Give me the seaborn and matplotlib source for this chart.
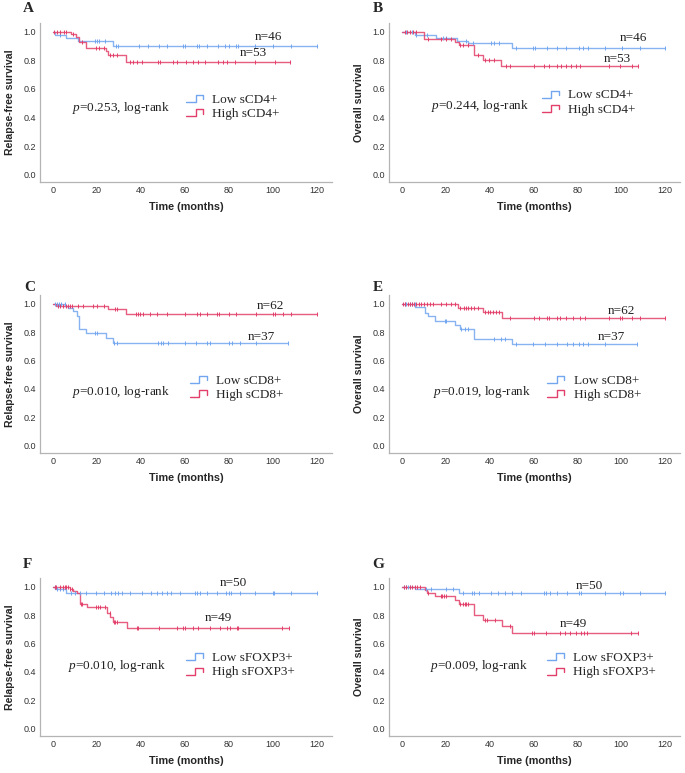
import numpy as np
import pandas as pd
import matplotlib
matplotlib.use("Agg")
import matplotlib.pyplot as plt
import seaborn as sns
from matplotlib.lines import Line2D
from matplotlib.legend_handler import HandlerBase

# ---------------- data ----------------
# step curves: event times (months) and survival after each step
A_low_t = [0, 1, 6, 11.5, 27.4]
A_low_s = [1.0, 0.978, 0.956, 0.935, 0.900]
A_low_c = [3, 19, 20, 21, 23.5, 28.5, 29.5, 39, 43, 48, 52, 59, 60, 65.5, 66.5, 70, 75, 78, 80, 83, 84, 92, 100, 108, 120]
A_high_t = [0, 8, 10.5, 12, 15, 24, 25, 33]
A_high_s = [1.0, 0.981, 0.962, 0.924, 0.886, 0.862, 0.834, 0.790]
A_high_c = [0.5, 2, 3, 5, 6, 9, 13, 19.5, 21, 23, 26, 27.5, 29, 35, 36.5, 38, 40.3, 47.9, 48.6, 54.7, 56.2, 60.6, 63.8, 66, 69, 75, 77.4, 79, 82.7, 91.8, 100.9, 107.5]

B_low_t = [0, 6, 15.7, 25, 30, 50.4]
B_low_s = [1.0, 0.976, 0.954, 0.935, 0.923, 0.884]
B_low_c = [2, 4.6, 6.5, 11.4, 18.7, 20.3, 29, 32.4, 40.4, 41.9, 44.3, 52.2, 59.8, 60.6, 66.2, 70.8, 74.8, 80.9, 82.4, 84.7, 92.6, 100.5, 108.6, 120]
B_high_t = [0, 10, 24, 26, 33, 37, 45]
B_high_s = [1.0, 0.951, 0.926, 0.904, 0.836, 0.802, 0.758]
B_high_c = [1.2, 2.4, 3.8, 5, 6.2, 11.9, 18, 20, 22.5, 26.5, 28, 30, 34.7, 38, 39.6, 41.9, 47.4, 49.5, 60.3, 64.7, 67.1, 70.5, 72.7, 75, 77.3, 79.6, 81.1, 94.6, 99.4, 104.7, 107.5]

C_low_t = [0, 5.5, 7, 9, 11, 12, 15.2, 24, 27.2]
C_low_s = [1.0, 0.985, 0.970, 0.947, 0.912, 0.820, 0.790, 0.757, 0.725]
C_low_c = [0.8, 1.8, 2.7, 3.8, 5.3, 19.3, 20, 27.8, 29.2, 47.9, 49, 50.2, 52.1, 60, 65, 70.2, 71.4, 80.2, 81.3, 85, 92.3, 107]
C_high_t = [0, 1.5, 25, 33]
C_high_s = [1.0, 0.983, 0.962, 0.927]
C_high_c = [2.3, 3, 4.6, 6, 6.8, 7.6, 8.8, 11.4, 13.7, 18.2, 19.8, 23.1, 28.1, 29.2, 37.9, 38.7, 39.5, 40.7, 44, 47.1, 51.6, 60, 65.3, 66.8, 70.2, 74.7, 75.5, 80.2, 83.2, 92.3, 100.2, 101, 104.4, 108.2, 120]

E_low_t = [0, 6, 10.5, 12, 15, 24, 26.5, 33, 50]
E_low_s = [1.0, 0.974, 0.937, 0.912, 0.879, 0.852, 0.820, 0.752, 0.713]
E_low_c = [1.2, 2, 3.5, 4.7, 5.8, 19.5, 19.9, 27.1, 28.6, 30.1, 42, 45.1, 47.2, 51.9, 59.8, 65.2, 70.5, 75.1, 77.8, 80.9, 82.4, 84.7, 92.6, 107]
E_high_t = [0, 25.5, 37, 45.5]
E_high_s = [1.0, 0.970, 0.940, 0.897]
E_high_c = [0.5, 1.5, 2.7, 3.8, 4.6, 5.3, 6.5, 7.6, 8.8, 10.1, 11.4, 12.9, 14.2, 18, 19.9, 22.5, 24.1, 26.5, 28.3, 29.1, 30.1, 31.4, 32.7, 34.7, 38.1, 39.3, 40.3, 41.6, 43.1, 44.3, 49.5, 60.3, 62.6, 66.2, 67.2, 70.5, 72.3, 74.8, 78.1, 81.2, 83.4, 94.6, 99.4, 100.2, 104.8, 108.6, 120]

F_low_t = [0, 1, 6]
F_low_s = [1.0, 0.982, 0.958]
F_low_c = [0.8, 1.8, 3, 4.6, 8.4, 9.9, 12.2, 15.2, 19.7, 23.2, 26.3, 28.4, 29.6, 31.4, 34.9, 40.3, 44.4, 47.4, 49.7, 51.6, 53.5, 57.7, 64.6, 65.6, 66.8, 70.2, 74.4, 78.7, 80.2, 80.8, 84.8, 91.9, 99.8, 100.6, 108.3, 120]
F_high_t = [0, 7.7, 9.2, 10.8, 12.3, 15.3, 24.4, 25.9, 27.4, 33.5]
F_high_s = [1.0, 0.985, 0.970, 0.952, 0.877, 0.855, 0.815, 0.785, 0.753, 0.707]
F_high_c = [0.8, 1.5, 3, 4.6, 5.3, 6.1, 6.8, 7.9, 8.8, 12.6, 13.4, 19.7, 20.5, 21.3, 23.5, 25.8, 27.8, 28.1, 28.9, 38, 38.7, 48.3, 56.2, 59.2, 60, 63.8, 66.1, 71.4, 76, 79, 80.5, 83.5, 84.3, 104.1, 107.1]

G_low_t = [0, 6, 26]
G_low_s = [1.0, 0.982, 0.955]
G_low_c = [0.8, 2, 2.7, 3.8, 10.8, 13.4, 19.9, 23.3, 27.9, 32.1, 32.7, 35.2, 40.8, 43.9, 47.2, 50.4, 54.5, 64.7, 65.9, 67.5, 70.5, 75.1, 80.9, 81.5, 92.6, 99.4, 100.7, 108.6, 120]
G_high_t = [0, 10.5, 11.5, 15, 24, 26, 33, 37, 45.5, 50]
G_high_s = [1.0, 0.977, 0.955, 0.932, 0.905, 0.877, 0.802, 0.765, 0.726, 0.672]
G_high_c = [0.9, 2, 3.8, 4.7, 5.8, 7, 8.1, 11.9, 17.7, 18.4, 19.2, 19.9, 26.3, 27.9, 28.6, 29.4, 30.2, 38.1, 39, 42.3, 49.2, 59.4, 60.3, 65.9, 72, 74.3, 76.6, 79.3, 81.6, 83.1, 84.5, 104.3, 107.5]

panel_letters = ["A", "B", "C", "E", "F", "G"]
y_labels = ["Relapse-free survival", "Overall survival"] * 3
x_label = "Time (months)"
markers_names = ["sCD4+", "sCD4+", "sCD8+", "sCD8+", "sFOXP3+", "sFOXP3+"]
n_low = [46, 46, 37, 37, 50, 50]
n_high = [53, 53, 62, 62, 49, 49]
p_values = ["0.253", "0.244", "0.010", "0.019", "0.010", "0.009"]
y_ticks = [0.0, 0.2, 0.4, 0.6, 0.8, 1.0]
x_ticks = [0, 20, 40, 60, 80, 100, 120]

curves = [
    ((A_low_t, A_low_s, A_low_c), (A_high_t, A_high_s, A_high_c)),
    ((B_low_t, B_low_s, B_low_c), (B_high_t, B_high_s, B_high_c)),
    ((C_low_t, C_low_s, C_low_c), (C_high_t, C_high_s, C_high_c)),
    ((E_low_t, E_low_s, E_low_c), (E_high_t, E_high_s, E_high_c)),
    ((F_low_t, F_low_s, F_low_c), (F_high_t, F_high_s, F_high_c)),
    ((G_low_t, G_low_s, G_low_c), (G_high_t, G_high_s, G_high_c)),
]

# ---------------- layout (positions, not data) ----------------
W, H = 685, 773
axes_px = [  # left, right, top, bottom in pixels
    (40, 332, 23, 182), (389, 680, 23, 182),
    (40, 332, 295, 453), (389, 680, 295, 453),
    (40, 332, 578, 736), (389, 680, 578, 736),
]
letter_px = [(28, 9), (378, 9), (30, 287), (378, 287), (27, 565), (378, 565)]
n_low_pos = [(97.7, 0.965), (105.6, 0.952), (94.5, 0.766), (95.3, 0.763), (82, 1.026), (85.5, 1.007)]
n_high_pos = [(91, 0.85), (98, 0.808), (99, 0.98), (100, 0.951), (75.2, 0.78), (78, 0.734)]
p_pos = [(8.5, 0.465), (13.1, 0.483), (8.5, 0.38), (14.3, 0.38), (7, 0.443), (12.8, 0.44)]
leg_pos = [(60.5, 0.477), (63.8, 0.506), (62.2, 0.41), (66.3, 0.41), (60.3, 0.45), (66, 0.45)]

BLUE = "#72a6ee"
RED = "#e2406a"
SPINE = "#b4b4b4"

sns.set_theme(style="white")
plt.rcParams["font.family"] = ["Liberation Sans", "DejaVu Sans"]
plt.rcParams["mathtext.fontset"] = "custom"
plt.rcParams["mathtext.it"] = "Liberation Serif:italic"
plt.rcParams["mathtext.rm"] = "Liberation Serif"
SERIF = ["Liberation Serif", "DejaVu Serif"]


class StepHandler(HandlerBase):
    def create_artists(self, legend, orig_handle, xdescent, ydescent,
                       width, height, fontsize, trans):
        x0, y0 = -xdescent, -ydescent
        xm = x0 + 0.55 * width
        xs = [x0, xm, xm, x0 + width, x0 + width]
        ys = [y0 + 0.05 * height, y0 + 0.05 * height, y0 + 0.8 * height,
              y0 + 0.8 * height, y0 + 0.35 * height]
        ln = Line2D(xs, ys, color=orig_handle.get_color(),
                    lw=orig_handle.get_linewidth(), transform=trans)
        return [ln]


def step_value(t_steps, s_steps, t):
    idx = np.searchsorted(np.asarray(t_steps), t, side="right") - 1
    return np.asarray(s_steps)[idx]


fig = plt.figure(figsize=(W / 100, H / 100), dpi=100)

for i, (l, r, t, b) in enumerate(axes_px):
    ax = fig.add_axes([l / W, 1 - b / H, (r - l) / W, (b - t) / H])
    for (ts, ss, cs), col in zip(curves[i], [BLUE, RED]):
        t_end = max(cs)
        df = pd.DataFrame({"t": list(ts) + [t_end], "s": list(ss) + [ss[-1]]})
        sns.lineplot(data=df, x="t", y="s", drawstyle="steps-post",
                     estimator=None, sort=False, color=col, lw=1.0,
                     alpha=0.85, ax=ax)
        cdf = pd.DataFrame({"t": cs, "s": step_value(ts, ss, cs)})
        sns.scatterplot(data=cdf, x="t", y="s", marker="|", s=8,
                        color=col, linewidth=0.7, ax=ax, zorder=3)

    ax.set_xlim(-5.9, 126.8)
    ax.set_ylim(-0.05, 1.06)
    ax.set_xticks(x_ticks)
    ax.set_yticks(y_ticks)
    ax.set_yticklabels([f"{v:.1f}" for v in y_ticks])
    ax.tick_params(axis="both", length=0, pad=3, labelsize=6.5,
                   labelcolor="#333333")
    for side in ["top", "right"]:
        ax.spines[side].set_visible(False)
    for side in ["left", "bottom"]:
        ax.spines[side].set_color(SPINE)
        ax.spines[side].set_linewidth(0.9)
    ax.set_xlabel(x_label, fontsize=7.8, fontweight="bold", labelpad=5)
    ax.set_ylabel(y_labels[i], fontsize=7.6, fontweight="bold", labelpad=6)

    ax.text(*n_low_pos[i], f"n={n_low[i]}", ha="center", va="center",
            family=SERIF, fontsize=9.5, color="#222222")
    ax.text(*n_high_pos[i], f"n={n_high[i]}", ha="center", va="center",
            family=SERIF, fontsize=9.5, color="#222222")
    ax.text(*p_pos[i], f"$p$=" + p_values[i] + ", log-rank", ha="left",
            va="center", family=SERIF, fontsize=9.5, color="#222222")
    handles = [Line2D([], [], color=BLUE, lw=1.0), Line2D([], [], color=RED, lw=1.0)]
    ax.legend(handles=handles,
              labels=[f"Low {markers_names[i]}", f"High {markers_names[i]}"],
              handler_map={Line2D: StepHandler()}, loc="center left",
              bbox_to_anchor=leg_pos[i], bbox_transform=ax.transData,
              frameon=False, prop={"family": SERIF, "size": 9.5},
              handlelength=1.3, handletextpad=0.7, labelspacing=0.15,
              borderpad=0, borderaxespad=0)

    lx, ly = letter_px[i]
    fig.text(lx / W, 1 - ly / H, panel_letters[i], ha="center", va="center",
             family=SERIF, fontsize=11, fontweight="bold")

fig.savefig("out.png", dpi=100)
